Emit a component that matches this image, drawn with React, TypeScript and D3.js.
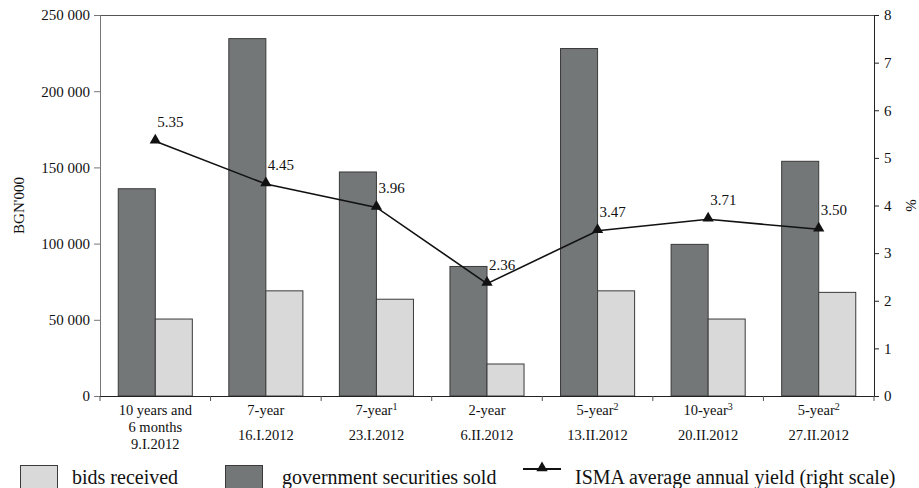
import React, { useEffect, useRef } from "react";
import * as d3 from "d3";

// auction data
const categories = ["c1", "c2", "c3", "c4", "c5", "c6", "c7"];
const nameLines = [
  ["10 years and", "6 months"],
  ["7-year"],
  ["7-year"],
  ["2-year"],
  ["5-year"],
  ["10-year"],
  ["5-year"],
];
const superscripts = ["", "", "1", "", "2", "3", "2"];
const dates = ["9.I.2012", "16.I.2012", "23.I.2012", "6.II.2012", "13.II.2012", "20.II.2012", "27.II.2012"];
const securitiesSold = [136000, 234500, 147000, 85000, 228000, 99500, 154000];
const bidsReceived = [50500, 69000, 63500, 21000, 69000, 50500, 68000];
const yieldValues = [5.35, 4.45, 3.96, 2.36, 3.47, 3.71, 3.5];
const leftTicks = [0, 50000, 100000, 150000, 200000, 250000];
const rightTicks = [0, 1, 2, 3, 4, 5, 6, 7, 8];

const FONT = "Liberation Serif";
const darkColor = "#737778";
const lightColor = "#d9d9d9";

const App: React.FC = () => {
  const svgRef = useRef<SVGSVGElement | null>(null);
  const width = 919;
  const height = 488;
  const margin = { top: 15, right: 45, bottom: 92, left: 100 };
  const innerW = width - margin.left - margin.right;
  const innerH = height - margin.top - margin.bottom;

  useEffect(() => {
    if (!svgRef.current) return;
    const svg = d3.select(svgRef.current);
    svg.selectAll("*").remove();
    svg.attr("font-family", FONT);

    const x0 = d3
      .scaleBand()
      .domain(categories)
      .range([0, innerW])
      .paddingInner(0.33)
      .paddingOuter(0.165);
    const x1 = d3.scaleBand().domain(["sold", "bids"]).range([0, x0.bandwidth()]);
    const yLeft = d3.scaleLinear().domain([0, 250000]).range([innerH, 0]);
    const yRight = d3.scaleLinear().domain([0, 8]).range([innerH, 0]);

    const chart = svg
      .append("g")
      .attr("transform", `translate(${margin.left},${margin.top})`);

    // top border
    chart
      .append("line")
      .attr("x1", 0)
      .attr("x2", innerW)
      .attr("y1", 0.5)
      .attr("y2", 0.5)
      .attr("stroke", "#555")
      .attr("stroke-width", 1);

    // bars
    const groups = chart
      .selectAll(".grp")
      .data(categories)
      .enter()
      .append("g")
      .attr("transform", (d) => `translate(${x0(d)},0)`);

    groups
      .append("rect")
      .attr("x", x1("sold") as number)
      .attr("y", (_d, i) => yLeft(securitiesSold[i]))
      .attr("width", x1.bandwidth())
      .attr("height", (_d, i) => innerH - yLeft(securitiesSold[i]))
      .attr("fill", darkColor)
      .attr("stroke", "#3a3a3a")
      .attr("stroke-width", 1);

    groups
      .append("rect")
      .attr("x", x1("bids") as number)
      .attr("y", (_d, i) => yLeft(bidsReceived[i]))
      .attr("width", x1.bandwidth())
      .attr("height", (_d, i) => innerH - yLeft(bidsReceived[i]))
      .attr("fill", lightColor)
      .attr("stroke", "#3a3a3a")
      .attr("stroke-width", 1);

    // left axis
    const leftAxis = chart
      .append("g")
      .call(
        d3
          .axisLeft(yLeft)
          .tickValues(leftTicks)
          .tickSize(6)
          .tickPadding(4)
          .tickFormat((d) => d3.format(",")(d as number).replace(/,/g, " "))
      )
      .attr("font-family", FONT)
      .attr("font-size", 15);
    leftAxis.selectAll("path, line").attr("stroke", "#777");
    leftAxis.selectAll("text").attr("fill", "#111");

    // right axis
    const rightAxis = chart
      .append("g")
      .attr("transform", `translate(${innerW},0)`)
      .call(d3.axisRight(yRight).tickValues(rightTicks).tickSize(5).tickPadding(5))
      .attr("font-family", FONT)
      .attr("font-size", 15);
    rightAxis.selectAll("path, line").attr("stroke", "#222");
    rightAxis.selectAll("text").attr("fill", "#111");

    // bottom axis with ticks at group boundaries
    chart
      .append("line")
      .attr("x1", 0)
      .attr("x2", innerW)
      .attr("y1", innerH + 0.5)
      .attr("y2", innerH + 0.5)
      .attr("stroke", "#222");
    const boundaries = d3.range(categories.length + 1).map((i) => i * x0.step());
    chart
      .selectAll(".xtick")
      .data(boundaries)
      .enter()
      .append("line")
      .attr("x1", (d) => d)
      .attr("x2", (d) => d)
      .attr("y1", innerH)
      .attr("y2", innerH + 5)
      .attr("stroke", "#555");

    // category labels
    categories.forEach((c, i) => {
      const cx = (x0(c) as number) + x0.bandwidth() / 2;
      const lines = nameLines[i];
      lines.forEach((ln, j) => {
        const t = chart
          .append("text")
          .attr("x", cx)
          .attr("y", innerH + 19 + j * 17)
          .attr("text-anchor", "middle")
          .attr("font-size", 14.5)
          .attr("fill", "#111")
          .text(ln);
        if (j === lines.length - 1 && superscripts[i]) {
          t.append("tspan")
            .attr("dy", -5)
            .attr("font-size", 10)
            .text(superscripts[i]);
        }
      });
      chart
        .append("text")
        .attr("x", cx)
        .attr("y", lines.length > 1 ? innerH + 53 : innerH + 44)
        .attr("text-anchor", "middle")
        .attr("font-size", 14.5)
        .attr("fill", "#111")
        .text(dates[i]);
    });

    // yield line
    const cxOf = (i: number) => (x0(categories[i]) as number) + x0.bandwidth() / 2;
    const line = d3
      .line<number>()
      .x((_d, i) => cxOf(i))
      .y((d) => yRight(d));
    chart
      .append("path")
      .datum(yieldValues)
      .attr("fill", "none")
      .attr("stroke", "#111")
      .attr("stroke-width", 1.6)
      .attr("d", line);

    const tri = d3.symbol().type(d3.symbolTriangle).size(55);
    chart
      .selectAll(".pt")
      .data(yieldValues)
      .enter()
      .append("path")
      .attr("d", tri)
      .attr("transform", (d, i) => `translate(${cxOf(i)},${yRight(d) - 1})`)
      .attr("fill", "#111");

    chart
      .selectAll(".lbl")
      .data(yieldValues)
      .enter()
      .append("text")
      .attr("x", (_d, i) => cxOf(i) + 2)
      .attr("y", (d) => yRight(d) - 14)
      .attr("font-size", 15)
      .attr("fill", "#111")
      .text((d) => d.toFixed(2));

    // axis titles
    svg
      .append("text")
      .attr("transform", `translate(24,${margin.top + innerH / 2}) rotate(-90)`)
      .attr("text-anchor", "middle")
      .attr("font-size", 15)
      .attr("fill", "#111")
      .text("BGN'000");
    svg
      .append("text")
      .attr("transform", `translate(916,${margin.top + innerH / 2}) rotate(-90)`)
      .attr("text-anchor", "middle")
      .attr("font-size", 15)
      .attr("fill", "#111")
      .text("%");

    // legend
    const legend = svg.append("g").attr("font-size", 20).attr("fill", "#111");
    const legY = 465;
    legend
      .append("rect")
      .attr("x", 20.5)
      .attr("y", legY + 0.5)
      .attr("width", 37)
      .attr("height", 26)
      .attr("fill", lightColor)
      .attr("stroke", "#3a3a3a");
    legend.append("text").attr("x", 72).attr("y", legY + 19).text("bids received");
    legend
      .append("rect")
      .attr("x", 225.5)
      .attr("y", legY + 0.5)
      .attr("width", 37)
      .attr("height", 26)
      .attr("fill", darkColor)
      .attr("stroke", "#3a3a3a");
    legend
      .append("text")
      .attr("x", 282)
      .attr("y", legY + 19)
      .text("government securities sold");
    legend
      .append("line")
      .attr("x1", 523)
      .attr("x2", 561)
      .attr("y1", legY + 4)
      .attr("y2", legY + 4)
      .attr("stroke", "#111")
      .attr("stroke-width", 2);
    legend
      .append("path")
      .attr("d", tri)
      .attr("transform", `translate(542,${legY + 3})`)
      .attr("fill", "#111");
    legend
      .append("text")
      .attr("x", 575)
      .attr("y", legY + 19)
      .text("ISMA average annual yield (right scale)");
  }, []);

  return (
    <svg
      ref={svgRef}
      width={width}
      height={height}
      style={{ position: "absolute", left: 0, top: 0, background: "#fff" }}
    ></svg>
  );
};

export default App;
